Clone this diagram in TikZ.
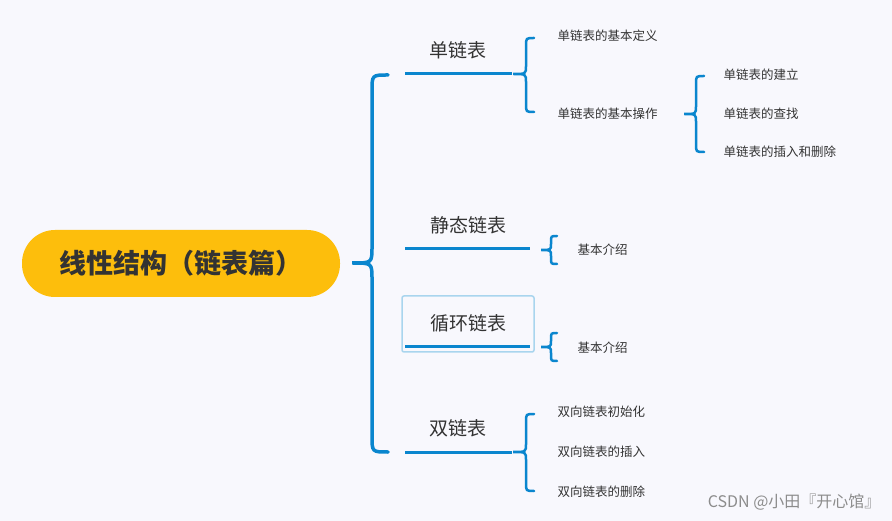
\documentclass[tikz,border=0pt]{standalone}
\usepackage{fontspec}
\setmainfont{Noto Sans CJK SC}
\definecolor{bl}{HTML}{0A86CE}
\definecolor{bg}{HTML}{F8F8FD}
\definecolor{yl}{HTML}{FDBE0C}
\definecolor{tx}{HTML}{333333}
\newcommand{\mybrace}[7]{% tip x, tip y, bar x, top, bottom, r, width
  \draw[bl,line width=#7,line cap=round] (#3+#6,#4) .. controls (#3,#4) .. (#3,#4+#6) -- (#3,#2-#6) .. controls (#3,#2) .. (#1,#2) .. controls (#3,#2) .. (#3,#2+#6) -- (#3,#5-#6) .. controls (#3,#5) .. (#3+#6,#5);}
\begin{document}
\begin{tikzpicture}[x=1pt,y=-1pt,
  branch/.style={font=\fontsize{19}{22}\selectfont,text=tx},
  leaf/.style={anchor=west,font=\fontsize{12.5}{14}\selectfont,text=tx},
  uline/.style={bl,line width=3pt}]
\fill[bg] (0,0) rectangle (892,521);
\useasboundingbox (0,0) rectangle (892,521);
\node[fill=yl,rounded corners=33pt,minimum width=318pt,minimum height=67pt,text=tx,font=\fontsize{27}{30}\selectfont\bfseries] (root) at (181,263.5) {线性结构（链表篇）};
\mybrace{352}{263}{372}{75}{452}{16}{3.5pt}
% branch 1
\node[branch] (b1) at (458,50) {单链表};
\draw[uline] (405,74) -- (512,74);
\mybrace{513}{74}{526}{38}{112}{8}{2.5pt}
\node[leaf] (l11) at (554,36) {单链表的基本定义};
\node[leaf] (l12) at (554,114) {单链表的基本操作};
\mybrace{684}{114}{696}{76}{152}{8}{2.5pt}
\node[leaf] (l121) at (720,75) {单链表的建立};
\node[leaf] (l122) at (720,114) {单链表的查找};
\node[leaf] (l123) at (720,152) {单链表的插入和删除};
% branch 2
\node[branch] (b2) at (468,225) {静态链表};
\draw[uline] (405,249) -- (530,249);
\mybrace{541}{250}{551}{236}{264}{6}{2.5pt}
\node[leaf] (l21) at (574,250) {基本介绍};
% branch 3
\draw[draw=bl!35,line width=1.5pt,rounded corners=2pt] (402,296) rectangle (534,352);
\node[branch] (b3) at (468,323) {循环链表};
\draw[uline] (405,347) -- (530,347);
\mybrace{541}{347}{551}{333}{361}{6}{2.5pt}
\node[leaf] (l31) at (574,348) {基本介绍};
% branch 4
\node[branch] (b4) at (458,428) {双链表};
\draw[uline] (405,452) -- (512,452);
\mybrace{513}{452}{526}{414}{491}{8}{2.5pt}
\node[leaf] (l41) at (554,412) {双向链表初始化};
\node[leaf] (l42) at (554,452) {双向链表的插入};
\node[leaf] (l43) at (554,492) {双向链表的删除};
\node[anchor=east,text=black!45,font=\fontsize{16}{18}\selectfont] (wm) at (884,502) {CSDN @小田『开心馆』};
\end{tikzpicture}
\end{document}
